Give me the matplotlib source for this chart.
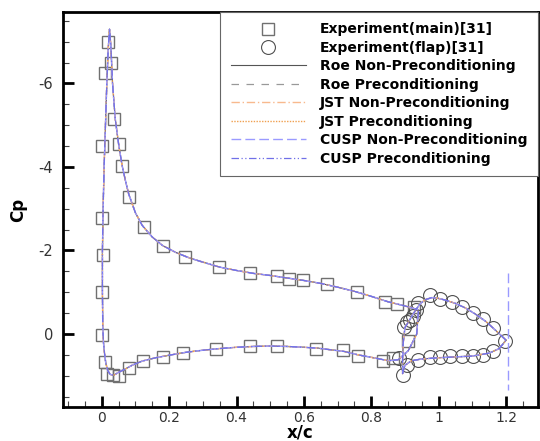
import numpy as np
import matplotlib
matplotlib.use("Agg")
import matplotlib.pyplot as plt
from matplotlib.ticker import MultipleLocator, FormatStrFormatter

plt.rcParams['font.family'] = ['DejaVu Sans']

# experiment, main element (x/c, Cp)
exp_main_x = [0.020, 0.027, 0.010, 0.037, 0.0, 0.051, 0.059, 0.081, 0.0, 0.124,
              0.003, 0.181, 0.248, 0.0, 0.347, 0.44, 0.519, 0.557, 0.596, 0.669,
              0.759, 0.841, 0.875, 0.928,
              0.0, 0.011, 0.015, 0.033, 0.051, 0.082, 0.122, 0.182, 0.242, 0.338,
              0.44, 0.521, 0.636, 0.715, 0.76, 0.836, 0.865, 0.91]
exp_main_cp = [-6.98, -6.48, -6.24, -5.14, -4.49, -4.54, -4.02, -3.29, -2.78, -2.57,
               -1.89, -2.10, -1.85, -1.01, -1.60, -1.45, -1.39, -1.32, -1.29, -1.19,
               -1.00, -0.77, -0.71, -0.64,
               0.02, 0.67, 0.97, 0.99, 1.00, 0.82, 0.66, 0.55, 0.45, 0.37,
               0.30, 0.29, 0.36, 0.38, 0.52, 0.66, 0.58, 0.18]

# experiment, flap
exp_flap_x = [0.898, 0.905, 0.915, 0.925, 0.933, 0.94, 0.974, 1.004, 1.039, 1.068,
              1.103, 1.132, 1.162, 1.197,
              0.895, 0.905, 0.883, 0.94, 0.974, 1.004, 1.034, 1.068, 1.103, 1.132, 1.162]
exp_flap_cp = [-0.16, -0.29, -0.34, -0.43, -0.57, -0.73, -0.93, -0.83, -0.76, -0.65,
               -0.50, -0.35, -0.14, 0.16,
               0.98, 0.74, 0.58, 0.62, 0.56, 0.56, 0.54, 0.54, 0.53, 0.50, 0.42]

# computed Cp, main element (lower TE -> LE -> upper TE)
cfd_main_x = [0.94, 0.935, 0.91, 0.88, 0.85, 0.80, 0.76, 0.72, 0.68, 0.64, 0.60, 0.55,
              0.50, 0.45, 0.40, 0.35, 0.30, 0.25, 0.20, 0.16, 0.12, 0.09, 0.07,
              0.05, 0.035, 0.025, 0.018, 0.012, 0.008, 0.005, 0.003, 0.002, 0.002,
              0.004, 0.007, 0.011, 0.015, 0.019, 0.023, 0.027, 0.032, 0.04, 0.05,
              0.06, 0.07, 0.08, 0.10, 0.12, 0.15, 0.18, 0.22, 0.26, 0.30, 0.35,
              0.40, 0.45, 0.50, 0.55, 0.60, 0.65, 0.70, 0.75, 0.80, 0.85, 0.90, 0.94]
cfd_main_cp = [-0.55, 0.0, 0.40, 0.62, 0.64, 0.56, 0.50, 0.42, 0.38, 0.34, 0.32, 0.30,
               0.29, 0.30, 0.32, 0.35, 0.39, 0.44, 0.51, 0.57, 0.65, 0.75, 0.84,
               0.92, 0.99, 0.97, 0.88, 0.70, 0.45, 0.20, -0.20, -1.00, -2.00,
               -3.00, -4.00, -5.00, -6.00, -6.80, -7.30, -6.90, -6.00, -5.15, -4.55,
               -4.05, -3.68, -3.35, -2.90, -2.60, -2.32, -2.12, -1.95, -1.82, -1.72, -1.60,
               -1.52, -1.45, -1.40, -1.34, -1.28, -1.21, -1.12, -1.02, -0.90, -0.77, -0.67, -0.58]

# computed Cp, flap (upper TE -> LE -> lower TE)
cfd_flap_x = [1.20, 1.17, 1.14, 1.11, 1.08, 1.05, 1.02, 1.00, 0.98, 0.96, 0.945, 0.93,
              0.915, 0.90, 0.895, 0.893, 0.893, 0.90, 0.92, 0.95, 1.00, 1.05, 1.10,
              1.15, 1.18, 1.20]
cfd_flap_cp = [0.15, -0.08, -0.30, -0.47, -0.62, -0.73, -0.81, -0.85, -0.87, -0.82, -0.72, -0.55,
               -0.35, -0.15, 0.20, 0.60, 0.95, 0.75, 0.64, 0.60, 0.57, 0.55, 0.53,
               0.46, 0.35, 0.15]

# spurious vertical segment at the flap trailing edge (CUSP)
te_x = [1.205, 1.205]
te_cp = [-1.45, 1.35]

series = [
    ("Roe Non-Preconditioning", dict(color="#555555", ls="-", lw=0.8)),
    ("Roe Preconditioning", dict(color="#999999", ls=(0, (6, 6)), lw=0.9)),
    ("JST Non-Preconditioning", dict(color="#f8b98e", ls=(0, (6, 2, 1, 2)), lw=1.0)),
    ("JST Preconditioning", dict(color="#f0a050", ls=(0, (1, 1)), lw=1.0)),
    ("CUSP Non-Preconditioning", dict(color="#9a9aff", ls=(0, (7, 3)), lw=1.0)),
    ("CUSP Preconditioning", dict(color="#7070e8", ls=(0, (6, 2, 1, 2, 1, 2)), lw=0.9)),
]

fig = plt.figure(figsize=(5.4, 4.41), dpi=100)
ax = fig.add_axes([0.1167, 0.0771, 0.8796, 0.8957])

ax.plot(exp_main_x, exp_main_cp, ls="none", marker="s", ms=8.5, mfc="none",
        mec="#707070", mew=1.0, label="Experiment(main)[31]", zorder=2)
ax.plot(exp_flap_x, exp_flap_cp, ls="none", marker="o", ms=10, mfc="none",
        mec="#505050", mew=0.8, label="Experiment(flap)[31]", zorder=2)

for i, (name, st) in enumerate(series):
    ax.plot(cfd_main_x, cfd_main_cp, label=name, zorder=3 + i, **st)
    ax.plot(cfd_flap_x, cfd_flap_cp, zorder=3 + i, **st)
ax.plot(te_x, te_cp, color="#9a9aff", ls=(0, (7, 3)), lw=1.0, zorder=8)

ax.set_xlim(-0.115, 1.295)
ax.set_ylim(1.75, -7.71)
ax.xaxis.set_major_locator(MultipleLocator(0.2))
ax.xaxis.set_minor_locator(MultipleLocator(0.05))
ax.yaxis.set_major_locator(MultipleLocator(2))
ax.yaxis.set_minor_locator(MultipleLocator(0.5))
ax.xaxis.set_major_formatter(FormatStrFormatter('%g'))
ax.yaxis.set_major_formatter(FormatStrFormatter('%g'))
ax.tick_params(which="both", direction="in", top=False, right=False,
               labelsize=10.5, labelcolor="#333333")
ax.tick_params(which="major", length=8, width=2)
ax.tick_params(axis="x", which="major", pad=3, labelsize=10)
ax.tick_params(axis="y", which="major", pad=7)
ax.tick_params(which="minor", length=4, width=0.8, color="#444444")
for sp in ax.spines.values():
    sp.set_linewidth(2)

ax.set_xlabel("x/c", fontsize=12, fontweight="bold", labelpad=-1)
ax.set_ylabel("Cp", fontsize=12, fontweight="bold", labelpad=8)

leg = ax.legend(loc="upper right", bbox_to_anchor=(1.0, 1.0), borderaxespad=0,
                fancybox=False, edgecolor="#666666", framealpha=1,
                prop=dict(size=10, weight="bold"), handlelength=5.4,
                handletextpad=1.05, labelspacing=0.32, borderpad=0.75)
leg.get_frame().set_linewidth(0.8)

fig.savefig("out.png", dpi=100)
